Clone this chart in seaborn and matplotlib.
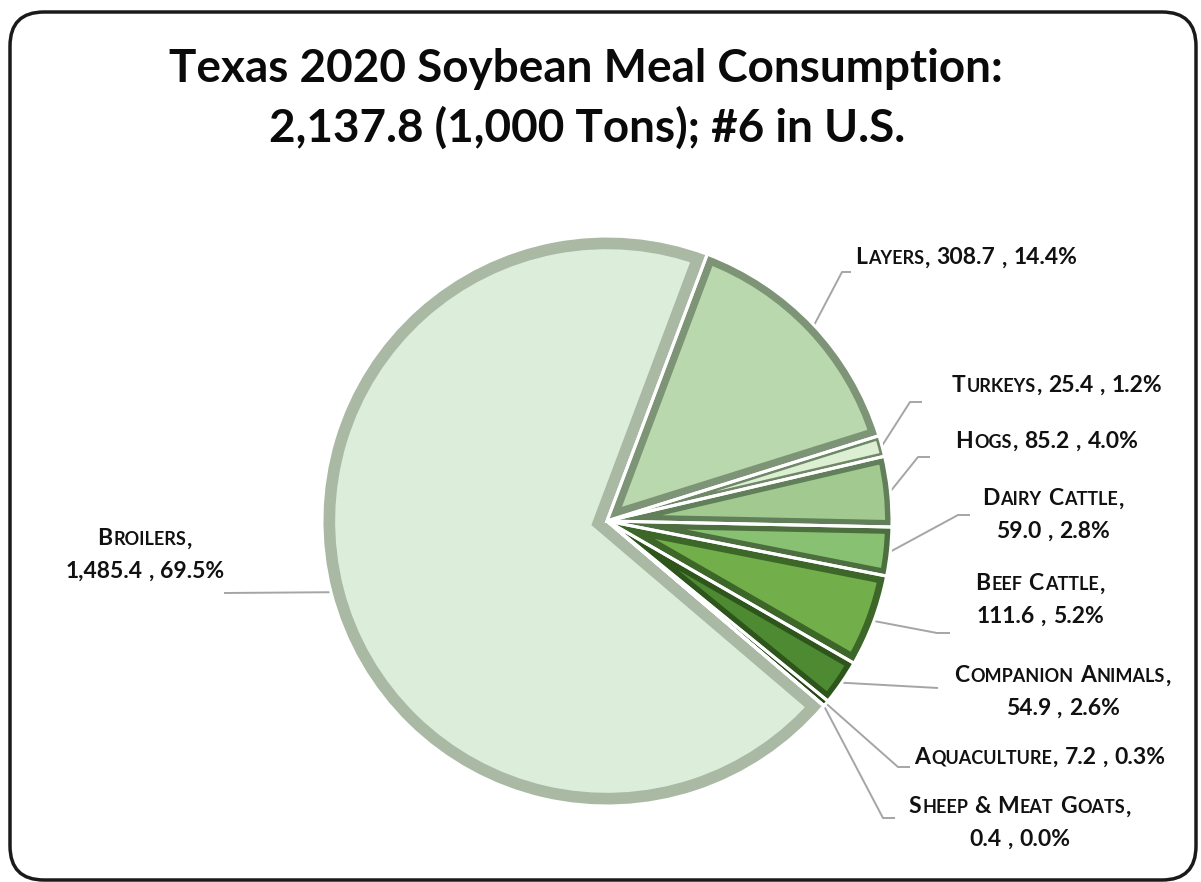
import matplotlib
matplotlib.use("Agg")
import numpy as np
import matplotlib.pyplot as plt
import seaborn as sns
from matplotlib.offsetbox import TextArea, HPacker, VPacker, AnnotationBbox, DrawingArea
from matplotlib.patches import FancyBboxPatch

# ---------------- data ----------------
categories = ["Layers", "Turkeys", "Hogs", "Dairy Cattle", "Beef Cattle",
              "Companion Animals", "Aquaculture", "Sheep & Meat Goats", "Broilers"]
values = [308.7, 25.4, 85.2, 59.0, 111.6, 54.9, 7.2, 0.4, 1485.4]
value_text = ["308.7", "25.4", "85.2", "59.0", "111.6", "54.9", "7.2", "0.4", "1,485.4"]
percent_text = ["14.4%", "1.2%", "4.0%", "2.8%", "5.2%", "2.6%", "0.3%", "0.0%", "69.5%"]
two_line = [False, False, False, True, True, True, False, True, True]

title_lines = ["Texas 2020 Soybean Meal Consumption:", "2,137.8 (1,000 Tons); #6 in U.S."]

# ---------------- styles ----------------
face_colors = ["#BAD8AE", "#DCEFD3", "#A2CA90", "#88C172", "#72AE4A",
               "#4E8A31", "#3B6B24", "#C9DCC2", "#DCEEDA"]
bevel_colors = ["#7E9477", "#6F8868", "#61805A", "#4D6F40", "#3D6629",
                "#2E561C", "#264A17", "#8A9C85", "#AAB9A4"]
bevel_lw = [13, 6, 10, 10, 12, 10, 6, 4, 19]

W, H = 1201, 882
sns.set_theme(style="white")
plt.rcParams['font.family'] = ['Lato', 'DejaVu Sans']

fig = plt.figure(figsize=(W / 100, H / 100), dpi=100)
ax = fig.add_axes([0, 0, 1, 1])


def px(x, y):
    return (x, H - y)


PIE_C = px(607, 521)
R = 285
explode = [0, 0, 0, 0, 0, 0, 0, 0, 0.05]
START = 69.4

wedges, _ = ax.pie(values, colors=face_colors, startangle=START, counterclock=False,
                   center=PIE_C, radius=R, explode=explode,
                   wedgeprops=dict(linewidth=0))
for w, bc, lw in zip(wedges, bevel_colors, bevel_lw):
    w.set_edgecolor(bc)
    w.set_linewidth(lw)
    w.set_clip_on(True)
    w.set_clip_path(w.get_path(), w.get_transform())

# white separators
ax.pie(values, startangle=START, counterclock=False, center=PIE_C, radius=R,
       explode=explode, wedgeprops=dict(facecolor="none", edgecolor="white", linewidth=2.2))

ax.set_xlim(0, W)
ax.set_ylim(0, H)
ax.axis("off")

# ---------------- labels ----------------
BIG, SMALL = 16.5, 13
TXT = dict(fontweight="bold", color="#111111")


def word_box(word):
    pieces = []
    cur, cur_sz = "", None
    for ch in word:
        if ch.isalpha() and ch.islower():
            sz, c = SMALL, ch.upper()
        else:
            sz, c = BIG, ch
        if cur and sz != cur_sz:
            pieces.append((cur, cur_sz))
            cur = ""
        cur += c
        cur_sz = sz
    if cur:
        pieces.append((cur, cur_sz))
    areas = [TextArea(t, textprops=dict(fontsize=s, **TXT)) for t, s in pieces]
    return HPacker(children=areas, align="baseline", pad=0, sep=0.8)


def line_box(text):
    words = text.split(" ")
    children = []
    for i, wd in enumerate(words):
        if i > 0:
            children.append(DrawingArea(4.5, 1))
        children.append(word_box(wd))
    return HPacker(children=children, align="baseline", pad=0, sep=0)


label_center = [(966, 258), (1057, 385), (1047, 441), (1053, 515), (1040, 600),
                (1063, 692), (1040, 757), (1020, 823), (145, 555)]
leader_elbow = [(842, 272), (910, 402), (918, 457), (958, 515), (937, 633),
                None, (898, 767), (883, 818), None]
leader_end = [(851, 272), (922, 402), (930, 457), (970, 515), (950, 633),
              (938, 688), (910, 767), (895, 818), (224, 593)]

for i, w in enumerate(wedges):
    if two_line[i]:
        lines = [f"{categories[i]},", f"{value_text[i]} , {percent_text[i]}"]
    else:
        lines = [f"{categories[i]}, {value_text[i]} , {percent_text[i]}"]
    box = VPacker(children=[line_box(l) for l in lines], align="center", pad=0, sep=8)
    ab = AnnotationBbox(box, px(*label_center[i]), xycoords="data", frameon=False,
                        box_alignment=(0.5, 0.5), pad=0, annotation_clip=False)
    ax.add_artist(ab)

    theta = np.deg2rad((w.theta1 + w.theta2) / 2)
    cx, cy = w.center
    sx, sy = cx + w.r * np.cos(theta), cy + w.r * np.sin(theta)
    pts = [(sx, sy)]
    if leader_elbow[i] is not None:
        pts.append(px(*leader_elbow[i]))
    pts.append(px(*leader_end[i]))
    xs, ys = zip(*pts)
    ax.plot(xs, ys, color="#A5A5A5", lw=1.4, solid_capstyle="butt", zorder=0.5)

# ---------------- title ----------------
ax.text(586, H - 82, title_lines[0], ha="center", va="baseline", fontsize=33,
        fontweight="bold", color="#0a0a0a")
ax.text(587, H - 142, title_lines[1], ha="center", va="baseline", fontsize=33,
        fontweight="bold", color="#0a0a0a")

# ---------------- frame ----------------
frame = FancyBboxPatch((10, H - 880), 1186, 868,
                       boxstyle="round,pad=0,rounding_size=34",
                       facecolor="none", edgecolor="#1a1a1a", linewidth=2.5,
                       clip_on=False, zorder=0)
ax.add_patch(frame)

fig.savefig("out.png", dpi=100)
